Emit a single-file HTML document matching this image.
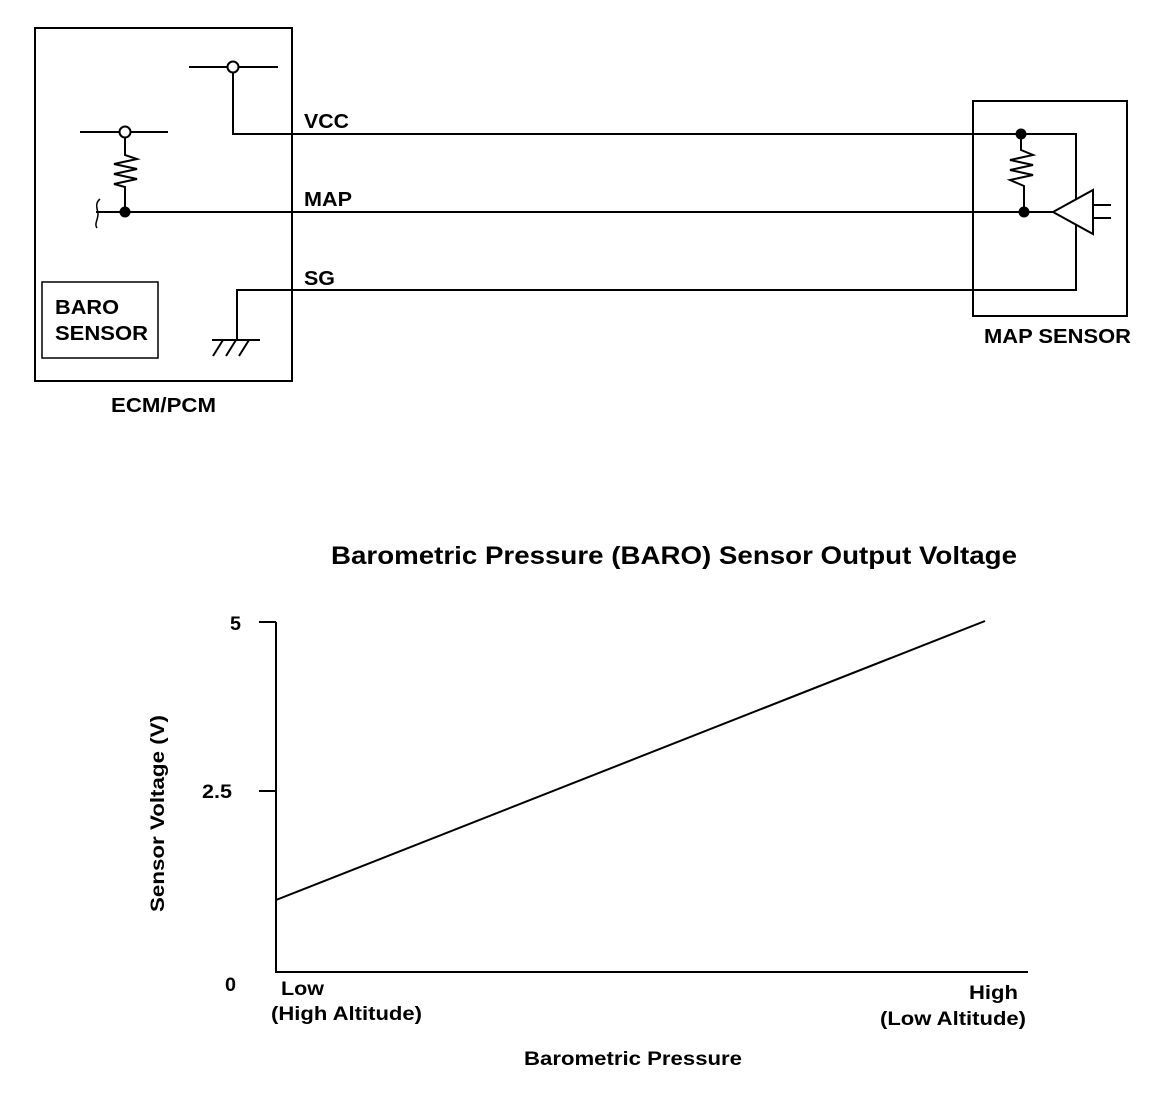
<!DOCTYPE html>
<html><head><meta charset="utf-8"><style>html,body{margin:0;padding:0;background:#fff}svg{display:block}</style></head>
<body>
<svg width="1152" height="1096" viewBox="0 0 1152 1096" xmlns="http://www.w3.org/2000/svg" font-family="Liberation Sans, Arial, sans-serif" font-weight="bold" fill="#000">
<g stroke="#000" stroke-width="2" fill="none">
<rect x="35" y="28" width="257" height="353"/>
<rect x="42" y="282" width="116" height="76" stroke-width="1.5"/>
<line x1="189" y1="67" x2="228" y2="67"/><line x1="238" y1="67" x2="278" y2="67"/>
<circle cx="233" cy="67" r="5.5" fill="#fff"/>
<polyline points="233,72.5 233,134 1076,134 1076,290 237,290 237,340"/>
<line x1="80" y1="132" x2="120" y2="132"/><line x1="130" y1="132" x2="168" y2="132"/>
<circle cx="125" cy="132" r="5.5" fill="#fff"/>
<polyline points="125,137.5 125,155 137,159 114,164 137,169 114,174 137,179 114,184 125,187 125,212"/>
<line x1="96" y1="212" x2="1053" y2="212"/>
<path d="M100,199 C94,204 98,210 98,214 C98,220 94,224 97,228" stroke-width="1.5"/>
<line x1="212" y1="340" x2="260" y2="340"/>
<line x1="213" y1="356" x2="223" y2="340"/><line x1="226" y1="356" x2="236" y2="340"/><line x1="239" y1="356" x2="249" y2="340"/>
<rect x="973" y="101" width="154" height="215"/>
<polyline points="1021,134 1021,150 1033,155 1010,160 1033,165 1010,170 1033,175 1010,180 1024,186 1024,212"/>
<polygon points="1053,212 1093,190 1093,234" fill="#fff"/>
<line x1="1093" y1="205" x2="1111" y2="205"/><line x1="1093" y1="218" x2="1111" y2="218"/>
<polyline points="276,622 276,972 1028,972"/>
<line x1="259" y1="622" x2="276" y2="622"/><line x1="259" y1="791" x2="276" y2="791"/>
<line x1="276" y1="900" x2="985" y2="621"/>
</g>
<circle cx="125" cy="212" r="5.5"/>
<circle cx="1021" cy="134" r="5.5"/>
<circle cx="1024" cy="212" r="5.5"/>
<g font-size="20" lengthAdjust="spacingAndGlyphs">
<text x="304" y="128" textLength="45" lengthAdjust="spacingAndGlyphs">VCC</text>
<text x="304" y="206" textLength="48" lengthAdjust="spacingAndGlyphs">MAP</text>
<text x="304" y="285" textLength="31" lengthAdjust="spacingAndGlyphs">SG</text>
<text x="55" y="314" textLength="64" lengthAdjust="spacingAndGlyphs">BARO</text>
<text x="55" y="340" textLength="93" lengthAdjust="spacingAndGlyphs">SENSOR</text>
<text x="984" y="343" textLength="147" lengthAdjust="spacingAndGlyphs">MAP SENSOR</text>
<text x="111" y="412" textLength="105" lengthAdjust="spacingAndGlyphs">ECM/PCM</text>
</g>
<text x="331" y="564" font-size="25" textLength="686" lengthAdjust="spacingAndGlyphs">Barometric Pressure (BARO) Sensor Output Voltage</text>
<g font-size="19">
<text x="230" y="630" textLength="11" lengthAdjust="spacingAndGlyphs">5</text>
<text x="202" y="798" textLength="30" lengthAdjust="spacingAndGlyphs">2.5</text>
<text x="225" y="991" textLength="11" lengthAdjust="spacingAndGlyphs">0</text>
<text x="281" y="995" textLength="43" lengthAdjust="spacingAndGlyphs">Low</text>
<text x="271" y="1020" textLength="151" lengthAdjust="spacingAndGlyphs">(High Altitude)</text>
<text x="969" y="999" textLength="49" lengthAdjust="spacingAndGlyphs">High</text>
<text x="880" y="1025" textLength="146" lengthAdjust="spacingAndGlyphs">(Low Altitude)</text>
<text x="524" y="1065" textLength="218" lengthAdjust="spacingAndGlyphs">Barometric Pressure</text>
<text transform="translate(164,912) rotate(-90)" textLength="197" lengthAdjust="spacingAndGlyphs">Sensor Voltage (V)</text>
</g>
</svg>
</body></html>
